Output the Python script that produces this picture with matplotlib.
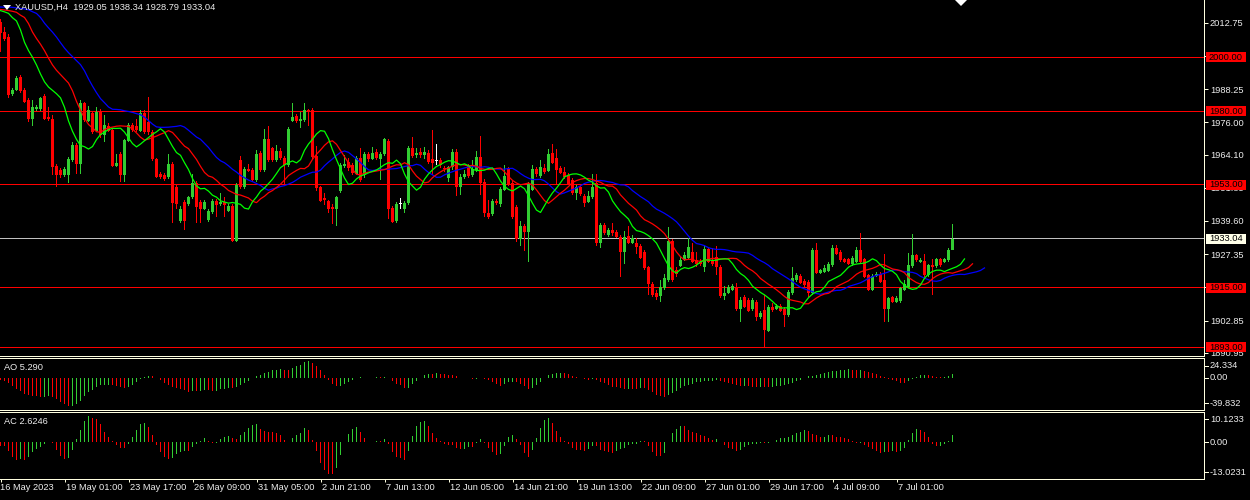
import numpy as np
import pandas as pd
import matplotlib
matplotlib.use("Agg")
import matplotlib.pyplot as plt
from matplotlib.patches import Rectangle, Polygon
from matplotlib.lines import Line2D
import matplotlib.transforms as mtrans

# ---------------- data (XAUUSD H4) ----------------
symbol_title = "XAUUSD,H4  1929.05 1938.34 1928.79 1933.04"
ao_label = "AO 5.290"
ac_label = "AC 2.6246"

opens = [2013.1, 2009.4, 2007.6, 1986.4, 1987.9, 1992.6, 1988.1, 1984.2, 1977.2, 1980.9,
         1980.8, 1985.8, 1978.0, 1977.4, 1960.0, 1958.4, 1956.5, 1956.5, 1962.1, 1967.6,
         1960.6, 1983.0, 1976.6, 1979.3, 1972.9, 1979.9, 1971.3, 1974.7, 1973.1, 1960.0,
         1964.3, 1956.5, 1969.2, 1975.0, 1974.7, 1972.9, 1979.5, 1976.2, 1972.5, 1962.4,
         1956.8, 1956.5, 1955.7, 1960.8, 1952.2, 1939.7, 1946.7, 1945.8, 1948.3, 1953.7,
         1946.7, 1944.2, 1939.9, 1942.8, 1946.9, 1945.7, 1946.7, 1943.4, 1945.1, 1932.3,
         1962.1, 1952.2, 1958.6, 1958.4, 1954.7, 1964.8, 1958.4, 1969.7, 1966.4, 1962.1,
         1965.5, 1963.0, 1960.2, 1976.6, 1978.3, 1976.6, 1976.8, 1980.5, 1980.5, 1963.5,
         1952.0, 1947.9, 1947.1, 1944.6, 1944.2, 1950.7, 1959.9, 1961.4, 1960.2, 1957.1,
         1963.0, 1956.5, 1964.5, 1962.4, 1965.1, 1962.4, 1964.3, 1969.1, 1944.5, 1939.7,
         1945.8, 1944.0, 1946.1, 1966.4, 1964.0, 1965.1, 1963.9, 1964.8, 1962.3, 1961.8,
         1962.1, 1959.3, 1955.3, 1959.4, 1965.1, 1952.0, 1955.7, 1959.9, 1956.5, 1958.4,
         1963.1, 1954.1, 1942.6, 1942.0, 1947.1, 1945.8, 1951.0, 1959.0, 1953.7, 1944.8,
         1932.8, 1937.7, 1935.6, 1951.2, 1958.6, 1956.2, 1959.0, 1958.1, 1964.8, 1962.7,
         1959.2, 1957.8, 1956.5, 1954.9, 1950.0, 1952.2, 1948.8, 1946.7, 1948.3, 1953.5,
         1931.6, 1938.1, 1934.4, 1936.2, 1935.6, 1933.8, 1928.2, 1934.0, 1931.6, 1931.6,
         1930.3, 1928.2, 1922.5, 1916.5, 1913.1, 1911.9, 1914.8, 1917.8, 1932.3, 1921.5,
         1922.9, 1925.2, 1926.1, 1928.2, 1925.2, 1924.5, 1922.7, 1929.1, 1924.9, 1926.4,
         1922.7, 1911.9, 1913.1, 1914.3, 1915.1, 1907.0, 1911.6, 1910.4, 1907.0, 1909.8,
         1904.0, 1906.7, 1899.1, 1907.9, 1907.3, 1908.2, 1907.3, 1904.9, 1912.9, 1917.8,
         1919.3, 1917.5, 1917.2, 1912.9, 1928.9, 1920.5, 1920.9, 1921.2, 1923.3, 1929.7,
         1928.2, 1925.4, 1925.4, 1923.7, 1924.5, 1928.9, 1925.4, 1919.6, 1914.3, 1919.3,
         1920.0, 1917.8, 1907.3, 1911.4, 1909.8, 1910.0, 1914.3, 1915.3, 1922.9, 1927.0,
         1924.5, 1924.8, 1919.6, 1923.3, 1922.9, 1925.4, 1924.5, 1925.2, 1929.05]

highs = [2014.3, 2011.3, 2008.5, 1988.8, 1993.1, 1993.3, 1988.5, 1984.8, 1984.2, 1982.5,
         1985.4, 1986.4, 1981.5, 1978.7, 1960.8, 1959.2, 1959.6, 1963.3, 1968.8, 1968.3,
         1984.4, 1983.6, 1982.0, 1980.2, 1981.5, 1981.1, 1978.7, 1975.8, 1974.0, 1964.5,
         1965.0, 1970.0, 1975.8, 1975.8, 1977.4, 1980.5, 1980.5, 1985.2, 1973.2, 1963.0,
         1957.8, 1957.2, 1964.5, 1961.5, 1953.0, 1945.0, 1947.3, 1949.0, 1957.1, 1954.4,
         1947.4, 1947.4, 1944.0, 1947.6, 1947.6, 1949.8, 1948.5, 1945.7, 1945.8, 1953.5,
         1963.5, 1959.5, 1960.8, 1959.0, 1965.8, 1965.5, 1973.4, 1974.6, 1967.0, 1967.6,
         1966.5, 1963.5, 1974.4, 1983.0, 1979.0, 1979.7, 1983.0, 1981.0, 1981.2, 1967.2,
         1952.5, 1949.8, 1947.5, 1945.8, 1949.0, 1961.0, 1963.9, 1963.0, 1961.0, 1963.5,
         1966.4, 1965.0, 1965.0, 1967.0, 1966.0, 1965.0, 1970.3, 1970.0, 1945.0, 1946.5,
         1947.9, 1947.0, 1967.2, 1970.7, 1966.5, 1966.4, 1967.0, 1965.8, 1973.1, 1968.0,
         1963.0, 1960.0, 1960.0, 1966.0, 1966.0, 1957.0, 1958.5, 1960.5, 1962.1, 1965.5,
         1970.9, 1955.0, 1947.3, 1947.6, 1947.8, 1952.0, 1960.2, 1959.6, 1954.5, 1945.5,
         1939.5, 1938.5, 1954.0, 1960.2, 1959.6, 1962.1, 1960.5, 1966.0, 1968.0, 1966.0,
         1960.0, 1959.6, 1957.2, 1955.5, 1953.0, 1953.0, 1949.5, 1950.8, 1956.9, 1957.1,
         1938.8, 1938.8, 1937.0, 1938.9, 1936.2, 1934.4, 1936.0, 1937.7, 1934.4, 1933.2,
         1931.0, 1928.8, 1923.0, 1917.0, 1914.0, 1918.0, 1920.0, 1937.2, 1932.8, 1922.5,
         1926.5, 1928.0, 1933.2, 1931.6, 1928.2, 1925.5, 1930.3, 1930.0, 1929.5, 1930.3,
         1923.5, 1915.6, 1916.0, 1916.5, 1916.8, 1911.6, 1912.2, 1911.0, 1911.0, 1910.5,
         1906.2, 1912.2, 1908.5, 1909.2, 1909.0, 1909.0, 1908.0, 1914.2, 1922.7, 1920.5,
         1920.0, 1918.3, 1917.8, 1929.6, 1931.3, 1922.0, 1923.3, 1924.5, 1930.7, 1930.7,
         1928.8, 1926.0, 1926.0, 1926.6, 1930.1, 1935.0, 1926.0, 1920.2, 1919.9, 1920.9,
         1920.9, 1927.4, 1911.6, 1912.0, 1912.0, 1915.3, 1917.8, 1927.9, 1934.8, 1927.6,
         1925.8, 1927.6, 1923.9, 1925.4, 1926.0, 1926.0, 1926.0, 1929.8, 1938.34]

lows = [2002.0, 2006.0, 1985.1, 1985.8, 1987.5, 1987.0, 1983.0, 1976.2, 1974.6, 1980.3,
        1980.2, 1976.8, 1976.5, 1956.5, 1952.0, 1955.6, 1955.9, 1953.7, 1961.5, 1957.1,
        1957.1, 1976.2, 1976.0, 1971.8, 1972.3, 1970.1, 1968.8, 1972.3, 1959.4, 1959.4,
        1954.1, 1954.1, 1968.6, 1972.5, 1972.5, 1972.3, 1971.8, 1971.3, 1961.8, 1955.3,
        1955.2, 1954.3, 1955.1, 1938.9, 1943.9, 1939.0, 1936.2, 1945.2, 1947.6, 1938.7,
        1938.7, 1943.6, 1939.3, 1942.2, 1941.2, 1945.1, 1941.2, 1942.8, 1931.7, 1931.7,
        1951.5, 1951.5, 1957.5, 1954.0, 1954.0, 1957.5, 1957.5, 1961.5, 1961.5, 1961.5,
        1962.0, 1952.8, 1959.5, 1976.0, 1975.6, 1973.8, 1976.0, 1974.7, 1962.5, 1950.8,
        1946.5, 1945.5, 1942.6, 1938.5, 1937.8, 1950.0, 1959.0, 1958.0, 1956.5, 1956.5,
        1954.0, 1955.5, 1961.5, 1962.0, 1962.0, 1954.7, 1963.5, 1940.5, 1938.8, 1939.0,
        1944.2, 1942.7, 1945.5, 1963.0, 1963.0, 1962.7, 1962.5, 1960.5, 1956.5, 1960.2,
        1959.0, 1957.5, 1954.1, 1958.5, 1948.8, 1949.1, 1955.0, 1955.5, 1955.8, 1957.5,
        1949.1, 1941.2, 1940.5, 1941.5, 1945.5, 1944.8, 1950.5, 1952.5, 1940.5, 1932.0,
        1930.3, 1928.6, 1924.5, 1950.5, 1956.0, 1955.5, 1956.8, 1957.5, 1960.5, 1952.8,
        1956.8, 1955.0, 1952.8, 1949.2, 1947.5, 1948.9, 1944.8, 1946.2, 1947.8, 1930.5,
        1929.5, 1934.4, 1933.8, 1934.0, 1933.2, 1919.0, 1923.9, 1931.0, 1931.0, 1927.6,
        1925.5, 1921.5, 1912.2, 1911.5, 1910.4, 1909.8, 1914.0, 1917.2, 1917.2, 1918.8,
        1922.5, 1924.8, 1925.5, 1924.0, 1922.7, 1923.0, 1920.9, 1924.0, 1923.0, 1919.6,
        1911.0, 1910.4, 1912.5, 1913.8, 1906.5, 1902.4, 1907.5, 1906.0, 1906.5, 1902.8,
        1903.5, 1893.2, 1898.5, 1906.0, 1906.8, 1906.0, 1900.6, 1904.3, 1912.3, 1917.2,
        1916.2, 1915.3, 1911.6, 1912.3, 1920.0, 1920.0, 1920.4, 1920.7, 1922.8, 1927.0,
        1924.6, 1924.0, 1923.3, 1923.1, 1924.0, 1924.0, 1918.4, 1913.8, 1913.8, 1918.8,
        1916.6, 1902.4, 1902.4, 1909.2, 1909.2, 1909.4, 1913.8, 1914.7, 1922.3, 1924.6,
        1924.0, 1919.0, 1919.0, 1912.2, 1922.3, 1922.8, 1924.0, 1924.6, 1928.79]

closes = [2009.0, 2006.9, 1986.0, 1988.1, 1992.4, 1987.6, 1983.6, 1977.2, 1981.5, 1981.5,
          1985.1, 1977.4, 1977.1, 1959.6, 1956.5, 1956.5, 1958.6, 1962.4, 1967.8, 1960.6,
          1983.0, 1976.8, 1980.5, 1972.5, 1979.9, 1971.3, 1975.0, 1972.9, 1960.0, 1961.1,
          1956.5, 1969.4, 1975.0, 1973.1, 1973.1, 1979.3, 1972.5, 1972.5, 1962.4, 1955.9,
          1955.9, 1955.0, 1960.8, 1946.1, 1945.8, 1944.2, 1939.7, 1948.3, 1953.7, 1944.6,
          1944.2, 1946.7, 1943.4, 1946.9, 1945.5, 1946.7, 1945.5, 1945.1, 1932.3, 1952.8,
          1952.2, 1958.6, 1958.1, 1954.7, 1964.3, 1958.4, 1969.7, 1962.1, 1962.1, 1965.5,
          1962.7, 1960.2, 1973.7, 1977.8, 1976.6, 1977.4, 1980.5, 1979.9, 1963.3, 1951.6,
          1947.1, 1947.5, 1944.2, 1944.2, 1948.5, 1960.2, 1960.8, 1959.0, 1957.4, 1962.7,
          1954.7, 1964.3, 1962.4, 1964.8, 1962.7, 1964.5, 1969.7, 1944.2, 1939.3, 1945.8,
          1945.8, 1946.1, 1966.4, 1963.5, 1964.8, 1963.9, 1965.1, 1961.4, 1961.1, 1961.8,
          1960.2, 1958.6, 1959.4, 1965.1, 1952.0, 1955.9, 1956.9, 1956.2, 1958.6, 1963.1,
          1953.7, 1942.4, 1941.1, 1947.1, 1946.1, 1951.4, 1956.2, 1953.2, 1941.1, 1932.8,
          1937.7, 1935.6, 1953.2, 1958.6, 1956.8, 1959.4, 1957.8, 1964.5, 1961.1, 1958.4,
          1957.4, 1955.7, 1953.4, 1949.8, 1952.2, 1949.5, 1946.3, 1948.8, 1952.2, 1931.3,
          1938.1, 1935.0, 1936.2, 1935.0, 1933.8, 1928.2, 1933.8, 1931.6, 1933.2, 1930.1,
          1926.1, 1922.1, 1916.5, 1912.2, 1911.4, 1915.1, 1918.4, 1932.3, 1917.8, 1920.2,
          1925.2, 1927.0, 1929.9, 1924.5, 1923.7, 1923.7, 1929.1, 1924.5, 1923.7, 1922.7,
          1911.9, 1913.1, 1915.1, 1915.6, 1907.0, 1910.4, 1908.0, 1906.5, 1910.4, 1904.3,
          1905.5, 1899.3, 1907.9, 1906.7, 1908.2, 1906.5, 1904.9, 1913.5, 1918.4, 1919.6,
          1916.8, 1915.9, 1912.9, 1928.9, 1920.5, 1921.5, 1922.1, 1923.9, 1929.7, 1927.6,
          1925.2, 1924.5, 1923.9, 1925.8, 1928.9, 1924.5, 1919.0, 1914.3, 1919.3, 1920.2,
          1917.2, 1907.3, 1911.0, 1909.8, 1911.3, 1914.7, 1916.5, 1923.3, 1927.0, 1925.2,
          1925.2, 1919.6, 1923.3, 1922.7, 1925.4, 1923.3, 1925.4, 1928.9, 1933.04]

# median prices of the 40 H4 bars before the first visible one (estimated from the
# starting level of the Alligator lines and oscillators)
prior_median = [2025, 2027, 2030, 2032, 2031, 2029, 2030, 2033, 2034, 2031,
                2028, 2025, 2022, 2018, 2015, 2013, 2012, 2011, 2014, 2016,
                2013, 2010, 2008, 2010, 2012, 2014, 2016, 2017, 2018, 2020,
                2021, 2020, 2019, 2018, 2019, 2017, 2016, 2016, 2015, 2014]

date_labels = ["16 May 2023", "19 May 01:00", "23 May 17:00", "26 May 09:00",
               "31 May 05:00", "2 Jun 21:00", "7 Jun 13:00", "12 Jun 05:00",
               "14 Jun 21:00", "19 Jun 13:00", "22 Jun 09:00", "27 Jun 01:00",
               "29 Jun 17:00", "4 Jul 09:00", "7 Jul 01:00"]
date_step = 16

level_lines = [2000.0, 1980.0, 1953.0, 1915.0, 1893.0]
last_price = 1933.04
price_ticks = [2012.75, 2000.50, 1988.25, 1976.00, 1964.10, 1951.85, 1939.60,
               1927.35, 1915.10, 1902.85, 1890.95]
ao_scale_labels = ["24.334", "0.00", "-39.832"]
ac_scale_labels = ["10.1233", "0.00", "-13.0231"]

# ---------------- layout helpers ----------------
W, H = 1250, 500
PX = 0.72  # one pixel in points at dpi 100
BG = "black"
FRAME = "#FFFFE0"
TXT = "#EDEDED"
BULL = "#32CD32"
BEAR = "#FF0000"
FONT = "Liberation Sans"
FS = 6.7

plt.rcParams["font.family"] = [FONT, "DejaVu Sans"]

fig = plt.figure(figsize=(W / 100, H / 100), dpi=100, facecolor=BG)


def box(x0, y0, x1, y1):
    return [x0 / W, 1 - y1 / H, (x1 - x0) / W, (y1 - y0) / H]


ax = fig.add_axes(box(0, 0, 1204, 356))
ax_ao = fig.add_axes(box(0, 358, 1204, 410))
ax_ac = fig.add_axes(box(0, 412, 1204, 479))

n = len(closes)
x = np.arange(n)
o = np.array(opens)
h = np.array(highs)
lo = np.array(lows)
c = np.array(closes)

xlim = (-0.125, 300.875)
ymin, ymax = 1889.78, 2021.14
ppu = 356 / (ymax - ymin)      # pixels per price unit in the main panel
ONE_PX_X = 0.3                 # a bit more than one pixel in bar units (4 px/bar)

for a in (ax, ax_ao, ax_ac):
    a.set_facecolor(BG)
    a.set_xlim(*xlim)
    for s in a.spines.values():
        s.set_color(FRAME)
        s.set_linewidth(PX)
    a.spines["left"].set_visible(False)
    a.tick_params(axis="x", bottom=False, labelbottom=False)
ax.spines["top"].set_visible(False)
ax.set_ylim(ymin, ymax)

# ---------------- candles ----------------
col = np.where(c > o, BULL, np.where(c < o, BEAR, "#FFFFFF")).tolist()
ax.bar(x, h - lo, bottom=lo, width=ONE_PX_X, color=col, linewidth=0,
       antialiased=False, zorder=3)
body_low = np.minimum(o, c)
body_h = np.maximum(np.abs(c - o), 0.37)
ax.bar(x, body_h, bottom=body_low, width=0.75, color=col, linewidth=0,
       antialiased=False, zorder=4)

# ---------------- levels ----------------
half = 0.6 / ppu
for lv in level_lines:
    ax.axhspan(lv - half, lv + half, color="#FF0000", linewidth=0,
               antialiased=False, zorder=2)
ax.axhspan(last_price - half, last_price + half, color="#C0C0C0", linewidth=0,
           antialiased=False, zorder=2)

# ---------------- Alligator ----------------
med_all = np.r_[np.array(prior_median, float), (h + lo) / 2]
idx_all = np.arange(-len(prior_median), n)


def smma(p, k):
    out = np.full(len(p), np.nan)
    out[k - 1] = p[:k].mean()
    for i in range(k, len(p)):
        out[i] = (out[i - 1] * (k - 1) + p[i]) / k
    return out


jaw = smma(med_all, 13)
teeth = smma(med_all, 8)
lips = smma(med_all, 5)
ax.plot(idx_all + 8, jaw, color="#0000FF", linewidth=0.9, zorder=5)
ax.plot(idx_all + 5, teeth, color="#FF0000", linewidth=0.9, zorder=5)
ax.plot(idx_all + 3, lips, color="#00FF00", linewidth=0.9, zorder=5)

# ---------------- AO / AC ----------------
s = pd.Series(med_all)
ao_all = s.rolling(5).mean() - s.rolling(34).mean()
ac_all = ao_all - ao_all.rolling(5).mean()
k0 = len(prior_median)
ao = ao_all.values
ac = ac_all.values


def hist(axh, vals):
    v = vals[k0:]
    prev = vals[k0 - 1:-1]
    cc = [BULL if a > b else BEAR for a, b in zip(v, prev)]
    axh.bar(x, v, width=ONE_PX_X, color=cc, linewidth=0, antialiased=False)


hist(ax_ao, ao)
hist(ax_ac, ac)
ax_ao.set_ylim(-43.1, 26.3)
ax_ac.set_ylim(-13.85, 11.32)

# ---------------- price axis ----------------
ax.yaxis.tick_right()
ax.set_yticks(price_ticks)
ax.set_yticklabels([f"{t:.2f}" for t in price_ticks])
ax.tick_params(axis="y", colors=FRAME, labelcolor=TXT, length=4 * PX,
               width=PX, pad=2 * PX, labelsize=FS)
for a in (ax_ao, ax_ac):
    a.set_yticks([])

# level tags
bt = mtrans.blended_transform_factory(fig.transFigure, ax.transData)
for lv in level_lines + [last_price]:
    fc = "#FFFFE8" if lv == last_price else "#FF0000"
    hh = 10 / ppu
    ax.add_patch(Rectangle((1206 / W, lv - hh / 2), 40 / W, hh, transform=bt,
                           facecolor=fc, edgecolor="none", clip_on=False, zorder=20))
    ax.text(1226 / W, lv, f"{lv:.2f}", transform=bt, ha="center", va="center",
            color="black", fontsize=FS, clip_on=False, zorder=21)

# oscillator scale labels
for labels, ys in ((ao_scale_labels, (365.7, 378.0, 403.3)),
                   (ac_scale_labels, (419.3, 442.3, 472.3))):
    for lab, yp in zip(labels, ys):
        fig.text(1210 / W, 1 - yp / H, lab, color=TXT, fontsize=FS,
                 ha="left", va="center")
        fig.add_artist(Line2D([1204 / W, 1208 / W], [1 - yp / H, 1 - yp / H],
                              color=FRAME, linewidth=PX))

# ---------------- time axis ----------------
tick_idx = np.arange(0, n, date_step)[:len(date_labels)]
ax_ac.set_xticks(tick_idx)
ax_ac.tick_params(axis="x", bottom=True, colors=FRAME, length=3 * PX, width=PX,
                  labelbottom=False)
for i, lab in zip(tick_idx, date_labels):
    xf = ax_ac.transData.transform((i, 0))[0] / W
    xf = 0.0 if i == 0 else xf + 1 / W
    fig.text(xf, 1 - 488 / H, lab, color=TXT, fontsize=FS, ha="left", va="center")

# ---------------- titles ----------------
fig.text(15 / W, 1 - 7 / H, symbol_title, color=TXT, fontsize=FS,
         ha="left", va="center")
fig.add_artist(Polygon([[3 / W, 1 - 5 / H], [11 / W, 1 - 5 / H], [7 / W, 1 - 10 / H]],
                       closed=True, transform=fig.transFigure, facecolor="white",
                       edgecolor="none"))
fig.add_artist(Polygon([[955 / W, 1.0], [967 / W, 1.0], [961 / W, 1 - 6 / H]],
                       closed=True, transform=fig.transFigure, facecolor="white",
                       edgecolor="none"))
fig.text(4 / W, 1 - 367 / H, ao_label, color=TXT, fontsize=FS, ha="left", va="center")
fig.text(4 / W, 1 - 421 / H, ac_label, color=TXT, fontsize=FS, ha="left", va="center")

fig.savefig("out.png", dpi=100, facecolor=BG)
